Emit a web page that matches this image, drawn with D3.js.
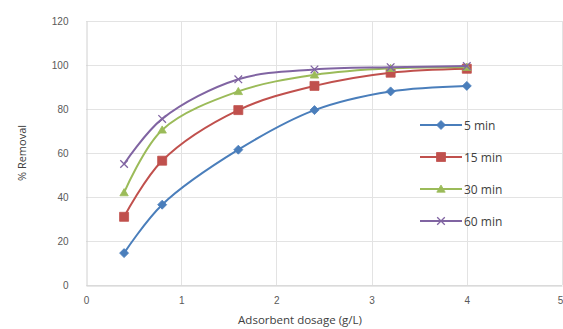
<!DOCTYPE html>
<meta charset="utf-8">
<style>
html, body { margin: 0; background: #fff; }
svg { display: block; font-family: "Open Sans", "Liberation Sans", sans-serif; }
.grid line { stroke: #e3e3e3; stroke-width: 1; }
.tick text { fill: #595959; font-size: 10px; }
</style>
<body>
<svg width="563" height="329"></svg>
</body>
<script src="https://cdn.jsdelivr.net/npm/d3@7"></script>
<script>

// data
var dosage = [0.4, 0.8, 1.6, 2.4, 3.2, 4];
var min5  = [14.5, 36.5, 61.5, 79.5, 88, 90.5];
var min15 = [31, 56.5, 79.5, 90.5, 96.5, 98.3];
var min30 = [42, 70.5, 88, 95.5, 98.5, 99];
var min60 = [55, 75.5, 93.5, 98, 99, 99.5];
var seriesNames = ["5 min", "15 min", "30 min", "60 min"];
var xTicks = [0, 1, 2, 3, 4, 5];
var yTicks = [0, 20, 40, 60, 80, 100, 120];

var series = [min5, min15, min30, min60].map(function(vals, i) {
  return { name: seriesNames[i], values: vals.map(function(v, j) { return { x: dosage[j], y: v }; }) };
});

var colors = ["#4a7ebb", "#c0504d", "#9bbb59", "#8064a2"];

var svg = d3.select("svg");
var plotLeft = 86, plotRight = 562, plotTop = 21, plotBottom = 285;

var x = d3.scaleLinear().domain([0, 5]).range([plotLeft, plotRight]);
var y = d3.scaleLinear().domain([0, 120]).range([plotBottom, plotTop]);

// gridlines
var grid = svg.append("g").attr("class", "grid");
grid.selectAll(".h").data(yTicks).enter().append("line")
    .attr("x1", plotLeft).attr("x2", plotRight)
    .attr("y1", function(d) { return Math.round(y(d)) + 0.5; })
    .attr("y2", function(d) { return Math.round(y(d)) + 0.5; });
grid.selectAll(".v").data(xTicks.slice(1)).enter().append("line")
    .attr("y1", plotTop).attr("y2", plotBottom)
    .attr("x1", function(d) { return Math.round(x(d)) + 0.5; })
    .attr("x2", function(d) { return Math.round(x(d)) + 0.5; });

// axes
var xAxis = svg.append("g")
    .attr("transform", "translate(0," + (plotBottom + 0.5) + ")")
    .call(d3.axisBottom(x).tickValues(xTicks).tickFormat(d3.format("d")).tickSize(0).tickPadding(11));
var yAxis = svg.append("g")
    .attr("transform", "translate(" + (plotLeft + 0.5) + ",0)")
    .call(d3.axisLeft(y).tickValues(yTicks).tickFormat(d3.format("d")).tickSize(0).tickPadding(18));
xAxis.select(".domain").attr("stroke", "#d0d0d0");
yAxis.select(".domain").attr("stroke", "#d0d0d0");
xAxis.selectAll(".tick:last-child text").attr("dx", "-2");

svg.append("text")
    .attr("x", 300).attr("y", 324)
    .attr("text-anchor", "middle")
    .attr("font-size", 11.5).attr("fill", "#404040")
    .text("Adsorbent dosage (g/L)");
svg.append("text")
    .attr("transform", "translate(26,153) rotate(-90)")
    .attr("text-anchor", "middle")
    .attr("font-size", 11).attr("fill", "#404040")
    .text("% Removal");

// lines
var line = d3.line()
    .x(function(d) { return x(d.x); })
    .y(function(d) { return y(d.y); })
    .curve(d3.curveCatmullRom.alpha(0.5));

var markerPaths = [
  "M0,-4.5L4.5,0L0,4.5L-4.5,0Z",
  "M-4.5,-4.5H4.5V4.5H-4.5Z",
  "M0,-4L4.2,3.2H-4.2Z",
  "M-3.8,-3.8L3.8,3.8M-3.8,3.8L3.8,-3.8"
];

function drawMarker(sel, i) {
  sel.attr("d", markerPaths[i]);
  if (i === 3) {
    sel.attr("fill", "none").attr("stroke", colors[i]).attr("stroke-width", 1.3);
  } else {
    sel.attr("fill", colors[i]).attr("stroke", colors[i]).attr("stroke-width", 0.8);
  }
}

series.forEach(function(s, i) {
  var g = svg.append("g");
  g.append("path")
      .attr("d", line(s.values))
      .attr("fill", "none")
      .attr("stroke", colors[i])
      .attr("stroke-width", 2);
  g.selectAll("path.m").data(s.values).enter().append("path")
      .attr("class", "m")
      .attr("transform", function(d) { return "translate(" + x(d.x) + "," + y(d.y) + ")"; })
      .each(function() { drawMarker(d3.select(this), i); });
});

// legend
var legend = svg.append("g");
series.forEach(function(s, i) {
  var ly = 125 + i * 32;
  legend.append("line")
      .attr("x1", 420).attr("x2", 462).attr("y1", ly).attr("y2", ly)
      .attr("stroke", colors[i]).attr("stroke-width", 2);
  legend.append("path")
      .attr("transform", "translate(441," + ly + ")")
      .call(function(sel) { drawMarker(sel, i); });
  legend.append("text")
      .attr("x", 464).attr("y", ly + 4.5)
      .attr("font-size", 12).attr("fill", "#404040")
      .text(s.name);
});

</script>
